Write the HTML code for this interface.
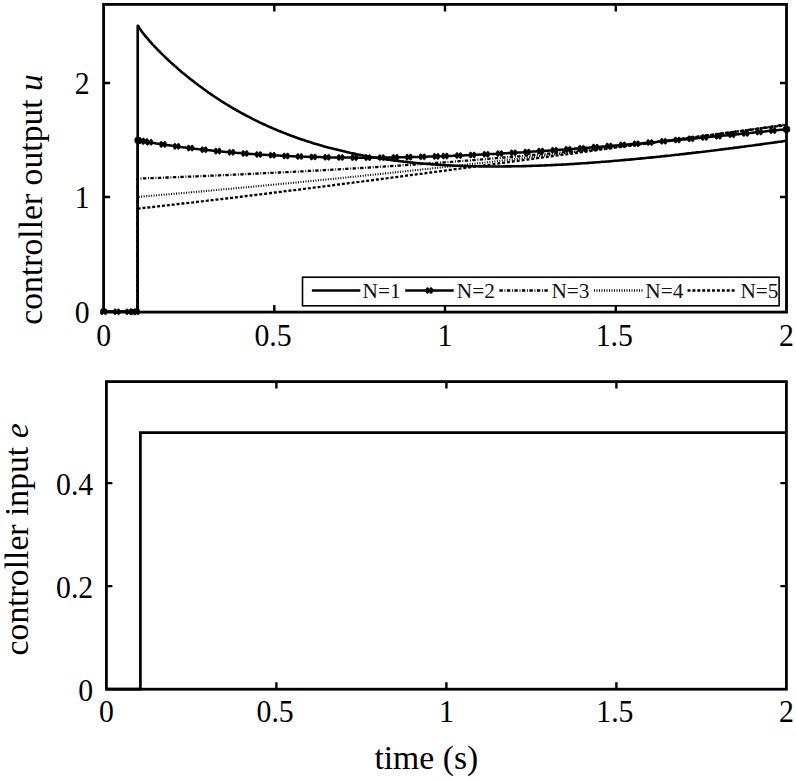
<!DOCTYPE html>
<html><head><meta charset="utf-8"><style>
html,body{margin:0;padding:0;background:#fff;width:796px;height:780px;overflow:hidden;position:relative}
svg{display:block;position:absolute;left:0;top:0}
text{font-family:"Liberation Serif",serif}
</style></head><body>
<svg width="796" height="780" viewBox="0 0 796 780">
<rect width="796" height="780" fill="#fff"/>
<g fill="none" stroke="#000" stroke-width="2.3" stroke-linejoin="round">
<polyline points="103.6,311.8 137.7,311.8 137.7,208.6 138.2,208.6 139.8,208.4 141.8,208.2 143.9,207.9 145.9,207.7 148.0,207.5 150.0,207.3 152.1,207.0 154.1,206.8 156.2,206.6 158.2,206.3 160.3,206.1 162.3,205.9 164.4,205.6 166.4,205.4 168.5,205.2 170.5,204.9 172.6,204.7 174.6,204.5 176.7,204.2 178.7,204.0 180.8,203.8 182.8,203.5 184.9,203.3 186.9,203.1 189.0,202.8 191.0,202.6 193.1,202.4 195.1,202.1 197.2,201.9 199.2,201.6 201.3,201.4 203.3,201.2 205.4,200.9 207.4,200.7 209.4,200.4 211.5,200.2 213.5,200.0 215.6,199.7 217.6,199.5 219.7,199.2 221.7,199.0 223.8,198.7 225.8,198.5 227.9,198.3 229.9,198.0 232.0,197.8 234.0,197.5 236.1,197.3 238.1,197.0 240.2,196.8 242.2,196.5 244.3,196.3 246.3,196.0 248.4,195.8 250.4,195.5 252.5,195.3 254.5,195.0 256.6,194.8 258.6,194.5 260.7,194.3 262.7,194.0 264.8,193.8 266.8,193.5 268.9,193.3 270.9,193.0 273.0,192.8 275.0,192.5 277.1,192.3 279.1,192.0 281.2,191.8 283.2,191.5 285.3,191.2 287.3,191.0 289.3,190.7 291.4,190.5 293.4,190.2 295.5,190.0 297.5,189.7 299.6,189.5 301.6,189.2 303.7,188.9 305.7,188.7 307.8,188.4 309.8,188.2 311.9,187.9 313.9,187.6 316.0,187.4 318.0,187.1 320.1,186.9 322.1,186.6 324.2,186.3 326.2,186.1 328.3,185.8 330.3,185.6 332.4,185.3 334.4,185.0 336.5,184.8 338.5,184.5 340.6,184.3 342.6,184.0 344.7,183.7 346.7,183.5 348.8,183.2 350.8,182.9 352.9,182.7 354.9,182.4 357.0,182.1 359.0,181.9 361.1,181.6 363.1,181.4 365.2,181.1 367.2,180.8 369.2,180.6 371.3,180.3 373.3,180.0 375.4,179.8 377.4,179.5 379.5,179.2 381.5,179.0 383.6,178.7 385.6,178.4 387.7,178.2 389.7,177.9 391.8,177.6 393.8,177.3 395.9,177.1 397.9,176.8 400.0,176.5 402.0,176.3 404.1,176.0 406.1,175.7 408.2,175.5 410.2,175.2 412.3,174.9 414.3,174.7 416.4,174.4 418.4,174.1 420.5,173.8 422.5,173.6 424.6,173.3 426.6,173.0 428.7,172.8 430.7,172.5 432.8,172.2 434.8,171.9 436.9,171.7 438.9,171.4 441.0,171.1 443.0,170.9 445.1,170.6 447.1,170.3 449.1,170.0 451.2,169.8 453.2,169.5 455.3,169.2 457.3,168.9 459.4,168.7 461.4,168.4 463.5,168.1 465.5,167.8 467.6,167.6 469.6,167.3 471.7,167.0 473.7,166.7 475.8,166.5 477.8,166.2 479.9,165.9 481.9,165.7 484.0,165.4 486.0,165.1 488.1,164.8 490.1,164.6 492.2,164.3 494.2,164.0 496.3,163.7 498.3,163.5 500.4,163.2 502.4,162.9 504.5,162.6 506.5,162.3 508.6,162.1 510.6,161.8 512.7,161.5 514.7,161.2 516.8,161.0 518.8,160.7 520.9,160.4 522.9,160.1 524.9,159.9 527.0,159.6 529.0,159.3 531.1,159.0 533.1,158.8 535.2,158.5 537.2,158.2 539.3,157.9 541.3,157.7 543.4,157.4 545.4,157.1 547.5,156.8 549.5,156.6 551.6,156.3 553.6,156.0 555.7,155.7 557.7,155.4 559.8,155.2 561.8,154.9 563.9,154.6 565.9,154.3 568.0,154.1 570.0,153.8 572.1,153.5 574.1,153.2 576.2,153.0 578.2,152.7 580.3,152.4 582.3,152.1 584.4,151.9 586.4,151.6 588.5,151.3 590.5,151.0 592.6,150.7 594.6,150.5 596.7,150.2 598.7,149.9 600.8,149.6 602.8,149.4 604.8,149.1 606.9,148.8 608.9,148.5 611.0,148.3 613.0,148.0 615.1,147.7 617.1,147.4 619.2,147.2 621.2,146.9 623.3,146.6 625.3,146.3 627.4,146.1 629.4,145.8 631.5,145.5 633.5,145.2 635.6,145.0 637.6,144.7 639.7,144.4 641.7,144.1 643.8,143.9 645.8,143.6 647.9,143.3 649.9,143.0 652.0,142.8 654.0,142.5 656.1,142.2 658.1,141.9 660.2,141.7 662.2,141.4 664.3,141.1 666.3,140.9 668.4,140.6 670.4,140.3 672.5,140.0 674.5,139.8 676.6,139.5 678.6,139.2 680.7,138.9 682.7,138.7 684.7,138.4 686.8,138.1 688.8,137.9 690.9,137.6 692.9,137.3 695.0,137.0 697.0,136.8 699.1,136.5 701.1,136.2 703.2,136.0 705.2,135.7 707.3,135.4 709.3,135.1 711.4,134.9 713.4,134.6 715.5,134.3 717.5,134.1 719.6,133.8 721.6,133.5 723.7,133.3 725.7,133.0 727.8,132.7 729.8,132.5 731.9,132.2 733.9,131.9 736.0,131.6 738.0,131.4 740.1,131.1 742.1,130.8 744.2,130.6 746.2,130.3 748.3,130.0 750.3,129.8 752.4,129.5 754.4,129.2 756.5,129.0 758.5,128.7 760.5,128.5 762.6,128.2 764.6,127.9 766.7,127.7 768.7,127.4 770.8,127.1 772.8,126.9 774.9,126.6 776.9,126.3 779.0,126.1 781.0,125.8 783.1,125.6 786.5,125.1" stroke-dasharray="3 1.9"/>
<polyline points="103.6,311.8 137.7,311.8 137.7,196.9 138.2,196.9 139.8,196.7 141.8,196.6 143.9,196.4 145.9,196.2 148.0,196.0 150.0,195.9 152.1,195.7 154.1,195.5 156.2,195.3 158.2,195.2 160.3,195.0 162.3,194.8 164.4,194.6 166.4,194.5 168.5,194.3 170.5,194.1 172.6,193.9 174.6,193.7 176.7,193.6 178.7,193.4 180.8,193.2 182.8,193.0 184.9,192.8 186.9,192.7 189.0,192.5 191.0,192.3 193.1,192.1 195.1,191.9 197.2,191.8 199.2,191.6 201.3,191.4 203.3,191.2 205.4,191.0 207.4,190.8 209.4,190.7 211.5,190.5 213.5,190.3 215.6,190.1 217.6,189.9 219.7,189.7 221.7,189.5 223.8,189.3 225.8,189.2 227.9,189.0 229.9,188.8 232.0,188.6 234.0,188.4 236.1,188.2 238.1,188.0 240.2,187.8 242.2,187.6 244.3,187.5 246.3,187.3 248.4,187.1 250.4,186.9 252.5,186.7 254.5,186.5 256.6,186.3 258.6,186.1 260.7,185.9 262.7,185.7 264.8,185.5 266.8,185.3 268.9,185.1 270.9,184.9 273.0,184.7 275.0,184.5 277.1,184.3 279.1,184.1 281.2,183.9 283.2,183.7 285.3,183.6 287.3,183.4 289.3,183.2 291.4,183.0 293.4,182.8 295.5,182.6 297.5,182.4 299.6,182.2 301.6,181.9 303.7,181.7 305.7,181.5 307.8,181.3 309.8,181.1 311.9,180.9 313.9,180.7 316.0,180.5 318.0,180.3 320.1,180.1 322.1,179.9 324.2,179.7 326.2,179.5 328.3,179.3 330.3,179.1 332.4,178.9 334.4,178.7 336.5,178.5 338.5,178.3 340.6,178.1 342.6,177.8 344.7,177.6 346.7,177.4 348.8,177.2 350.8,177.0 352.9,176.8 354.9,176.6 357.0,176.4 359.0,176.2 361.1,176.0 363.1,175.7 365.2,175.5 367.2,175.3 369.2,175.1 371.3,174.9 373.3,174.7 375.4,174.5 377.4,174.2 379.5,174.0 381.5,173.8 383.6,173.6 385.6,173.4 387.7,173.2 389.7,173.0 391.8,172.7 393.8,172.5 395.9,172.3 397.9,172.1 400.0,171.9 402.0,171.6 404.1,171.4 406.1,171.2 408.2,171.0 410.2,170.8 412.3,170.5 414.3,170.3 416.4,170.1 418.4,169.9 420.5,169.7 422.5,169.4 424.6,169.2 426.6,169.0 428.7,168.8 430.7,168.6 432.8,168.3 434.8,168.1 436.9,167.9 438.9,167.7 441.0,167.4 443.0,167.2 445.1,167.0 447.1,166.8 449.1,166.5 451.2,166.3 453.2,166.1 455.3,165.8 457.3,165.6 459.4,165.4 461.4,165.2 463.5,164.9 465.5,164.7 467.6,164.5 469.6,164.2 471.7,164.0 473.7,163.8 475.8,163.6 477.8,163.3 479.9,163.1 481.9,162.9 484.0,162.6 486.0,162.4 488.1,162.2 490.1,161.9 492.2,161.7 494.2,161.5 496.3,161.2 498.3,161.0 500.4,160.8 502.4,160.5 504.5,160.3 506.5,160.1 508.6,159.8 510.6,159.6 512.7,159.3 514.7,159.1 516.8,158.9 518.8,158.6 520.9,158.4 522.9,158.2 524.9,157.9 527.0,157.7 529.0,157.4 531.1,157.2 533.1,157.0 535.2,156.7 537.2,156.5 539.3,156.2 541.3,156.0 543.4,155.8 545.4,155.5 547.5,155.3 549.5,155.0 551.6,154.8 553.6,154.5 555.7,154.3 557.7,154.1 559.8,153.8 561.8,153.6 563.9,153.3 565.9,153.1 568.0,152.8 570.0,152.6 572.1,152.3 574.1,152.1 576.2,151.8 578.2,151.6 580.3,151.3 582.3,151.1 584.4,150.9 586.4,150.6 588.5,150.4 590.5,150.1 592.6,149.9 594.6,149.6 596.7,149.4 598.7,149.1 600.8,148.9 602.8,148.6 604.8,148.4 606.9,148.1 608.9,147.9 611.0,147.6 613.0,147.3 615.1,147.1 617.1,146.8 619.2,146.6 621.2,146.3 623.3,146.1 625.3,145.8 627.4,145.6 629.4,145.3 631.5,145.1 633.5,144.8 635.6,144.6 637.6,144.3 639.7,144.0 641.7,143.8 643.8,143.5 645.8,143.3 647.9,143.0 649.9,142.8 652.0,142.5 654.0,142.2 656.1,142.0 658.1,141.7 660.2,141.5 662.2,141.2 664.3,140.9 666.3,140.7 668.4,140.4 670.4,140.2 672.5,139.9 674.5,139.6 676.6,139.4 678.6,139.1 680.7,138.8 682.7,138.6 684.7,138.3 686.8,138.1 688.8,137.8 690.9,137.5 692.9,137.3 695.0,137.0 697.0,136.7 699.1,136.5 701.1,136.2 703.2,135.9 705.2,135.7 707.3,135.4 709.3,135.1 711.4,134.9 713.4,134.6 715.5,134.3 717.5,134.1 719.6,133.8 721.6,133.5 723.7,133.3 725.7,133.0 727.8,132.7 729.8,132.5 731.9,132.2 733.9,131.9 736.0,131.6 738.0,131.4 740.1,131.1 742.1,130.8 744.2,130.6 746.2,130.3 748.3,130.0 750.3,129.7 752.4,129.5 754.4,129.2 756.5,128.9 758.5,128.6 760.5,128.4 762.6,128.1 764.6,127.8 766.7,127.5 768.7,127.3 770.8,127.0 772.8,126.7 774.9,126.4 776.9,126.2 779.0,125.9 781.0,125.6 783.1,125.3 786.5,124.9" stroke-dasharray="1 1.5" stroke-width="2.1"/>
<polyline points="103.6,311.8 137.7,311.8 137.7,178.6 138.2,178.6 139.8,178.6 141.8,178.5 143.9,178.4 145.9,178.3 148.0,178.2 150.0,178.2 152.1,178.1 154.1,178.0 156.2,177.9 158.2,177.9 160.3,177.8 162.3,177.7 164.4,177.6 166.4,177.5 168.5,177.5 170.5,177.4 172.6,177.3 174.6,177.2 176.7,177.1 178.7,177.1 180.8,177.0 182.8,176.9 184.9,176.8 186.9,176.7 189.0,176.6 191.0,176.6 193.1,176.5 195.1,176.4 197.2,176.3 199.2,176.2 201.3,176.1 203.3,176.0 205.4,176.0 207.4,175.9 209.4,175.8 211.5,175.7 213.5,175.6 215.6,175.5 217.6,175.4 219.7,175.3 221.7,175.2 223.8,175.2 225.8,175.1 227.9,175.0 229.9,174.9 232.0,174.8 234.0,174.7 236.1,174.6 238.1,174.5 240.2,174.4 242.2,174.3 244.3,174.2 246.3,174.1 248.4,174.0 250.4,173.9 252.5,173.8 254.5,173.7 256.6,173.6 258.6,173.5 260.7,173.4 262.7,173.3 264.8,173.2 266.8,173.1 268.9,173.0 270.9,172.9 273.0,172.8 275.0,172.7 277.1,172.6 279.1,172.5 281.2,172.4 283.2,172.3 285.3,172.2 287.3,172.1 289.3,172.0 291.4,171.9 293.4,171.8 295.5,171.7 297.5,171.6 299.6,171.5 301.6,171.4 303.7,171.3 305.7,171.2 307.8,171.0 309.8,170.9 311.9,170.8 313.9,170.7 316.0,170.6 318.0,170.5 320.1,170.4 322.1,170.3 324.2,170.1 326.2,170.0 328.3,169.9 330.3,169.8 332.4,169.7 334.4,169.6 336.5,169.4 338.5,169.3 340.6,169.2 342.6,169.1 344.7,169.0 346.7,168.8 348.8,168.7 350.8,168.6 352.9,168.5 354.9,168.4 357.0,168.2 359.0,168.1 361.1,168.0 363.1,167.9 365.2,167.7 367.2,167.6 369.2,167.5 371.3,167.3 373.3,167.2 375.4,167.1 377.4,167.0 379.5,166.8 381.5,166.7 383.6,166.6 385.6,166.4 387.7,166.3 389.7,166.2 391.8,166.0 393.8,165.9 395.9,165.8 397.9,165.6 400.0,165.5 402.0,165.3 404.1,165.2 406.1,165.1 408.2,164.9 410.2,164.8 412.3,164.6 414.3,164.5 416.4,164.4 418.4,164.2 420.5,164.1 422.5,163.9 424.6,163.8 426.6,163.6 428.7,163.5 430.7,163.3 432.8,163.2 434.8,163.0 436.9,162.9 438.9,162.7 441.0,162.6 443.0,162.4 445.1,162.3 447.1,162.1 449.1,162.0 451.2,161.8 453.2,161.7 455.3,161.5 457.3,161.4 459.4,161.2 461.4,161.0 463.5,160.9 465.5,160.7 467.6,160.6 469.6,160.4 471.7,160.2 473.7,160.1 475.8,159.9 477.8,159.7 479.9,159.6 481.9,159.4 484.0,159.2 486.0,159.1 488.1,158.9 490.1,158.7 492.2,158.6 494.2,158.4 496.3,158.2 498.3,158.0 500.4,157.9 502.4,157.7 504.5,157.5 506.5,157.3 508.6,157.2 510.6,157.0 512.7,156.8 514.7,156.6 516.8,156.5 518.8,156.3 520.9,156.1 522.9,155.9 524.9,155.7 527.0,155.5 529.0,155.4 531.1,155.2 533.1,155.0 535.2,154.8 537.2,154.6 539.3,154.4 541.3,154.2 543.4,154.0 545.4,153.8 547.5,153.6 549.5,153.5 551.6,153.3 553.6,153.1 555.7,152.9 557.7,152.7 559.8,152.5 561.8,152.3 563.9,152.1 565.9,151.9 568.0,151.7 570.0,151.5 572.1,151.3 574.1,151.1 576.2,150.9 578.2,150.6 580.3,150.4 582.3,150.2 584.4,150.0 586.4,149.8 588.5,149.6 590.5,149.4 592.6,149.2 594.6,149.0 596.7,148.7 598.7,148.5 600.8,148.3 602.8,148.1 604.8,147.9 606.9,147.7 608.9,147.4 611.0,147.2 613.0,147.0 615.1,146.8 617.1,146.5 619.2,146.3 621.2,146.1 623.3,145.9 625.3,145.6 627.4,145.4 629.4,145.2 631.5,144.9 633.5,144.7 635.6,144.5 637.6,144.2 639.7,144.0 641.7,143.8 643.8,143.5 645.8,143.3 647.9,143.0 649.9,142.8 652.0,142.6 654.0,142.3 656.1,142.1 658.1,141.8 660.2,141.6 662.2,141.3 664.3,141.1 666.3,140.8 668.4,140.6 670.4,140.3 672.5,140.1 674.5,139.8 676.6,139.6 678.6,139.3 680.7,139.1 682.7,138.8 684.7,138.6 686.8,138.3 688.8,138.0 690.9,137.8 692.9,137.5 695.0,137.2 697.0,137.0 699.1,136.7 701.1,136.4 703.2,136.2 705.2,135.9 707.3,135.6 709.3,135.4 711.4,135.1 713.4,134.8 715.5,134.5 717.5,134.3 719.6,134.0 721.6,133.7 723.7,133.4 725.7,133.2 727.8,132.9 729.8,132.6 731.9,132.3 733.9,132.0 736.0,131.7 738.0,131.4 740.1,131.2 742.1,130.9 744.2,130.6 746.2,130.3 748.3,130.0 750.3,129.7 752.4,129.4 754.4,129.1 756.5,128.8 758.5,128.5 760.5,128.2 762.6,127.9 764.6,127.6 766.7,127.3 768.7,127.0 770.8,126.7 772.8,126.4 774.9,126.1 776.9,125.8 779.0,125.4 781.0,125.1 783.1,124.8 786.5,124.3" stroke-dasharray="3.4 1.7 0.9 1.5"/>
<polyline points="103.6,311.8 137.7,311.8 137.7,140.3 138.2,140.3 139.8,140.7 141.8,141.0 143.9,141.4 145.9,141.7 148.0,142.1 150.0,142.4 152.1,142.7 154.1,143.0 156.2,143.4 158.2,143.7 160.3,144.0 162.3,144.3 164.4,144.6 166.4,144.9 168.5,145.2 170.5,145.5 172.6,145.8 174.6,146.1 176.7,146.4 178.7,146.6 180.8,146.9 182.8,147.2 184.9,147.4 186.9,147.7 189.0,147.9 191.0,148.2 193.1,148.4 195.1,148.7 197.2,148.9 199.2,149.2 201.3,149.4 203.3,149.6 205.4,149.8 207.4,150.1 209.4,150.3 211.5,150.5 213.5,150.7 215.6,150.9 217.6,151.1 219.7,151.3 221.7,151.5 223.8,151.7 225.8,151.9 227.9,152.1 229.9,152.3 232.0,152.4 234.0,152.6 236.1,152.8 238.1,152.9 240.2,153.1 242.2,153.3 244.3,153.4 246.3,153.6 248.4,153.7 250.4,153.9 252.5,154.0 254.5,154.2 256.6,154.3 258.6,154.4 260.7,154.6 262.7,154.7 264.8,154.8 266.8,155.0 268.9,155.1 270.9,155.2 273.0,155.3 275.0,155.4 277.1,155.5 279.1,155.6 281.2,155.7 283.2,155.8 285.3,155.9 287.3,156.0 289.3,156.1 291.4,156.2 293.4,156.3 295.5,156.4 297.5,156.4 299.6,156.5 301.6,156.6 303.7,156.7 305.7,156.7 307.8,156.8 309.8,156.9 311.9,156.9 313.9,157.0 316.0,157.0 318.0,157.1 320.1,157.1 322.1,157.2 324.2,157.2 326.2,157.3 328.3,157.3 330.3,157.4 332.4,157.4 334.4,157.4 336.5,157.5 338.5,157.5 340.6,157.5 342.6,157.5 344.7,157.6 346.7,157.6 348.8,157.6 350.8,157.6 352.9,157.6 354.9,157.6 357.0,157.6 359.0,157.7 361.1,157.7 363.1,157.7 365.2,157.7 367.2,157.7 369.2,157.6 371.3,157.6 373.3,157.6 375.4,157.6 377.4,157.6 379.5,157.6 381.5,157.6 383.6,157.6 385.6,157.5 387.7,157.5 389.7,157.5 391.8,157.5 393.8,157.4 395.9,157.4 397.9,157.4 400.0,157.3 402.0,157.3 404.1,157.3 406.1,157.2 408.2,157.2 410.2,157.1 412.3,157.1 414.3,157.0 416.4,157.0 418.4,156.9 420.5,156.9 422.5,156.8 424.6,156.8 426.6,156.7 428.7,156.6 430.7,156.6 432.8,156.5 434.8,156.5 436.9,156.4 438.9,156.3 441.0,156.3 443.0,156.2 445.1,156.1 447.1,156.0 449.1,156.0 451.2,155.9 453.2,155.8 455.3,155.7 457.3,155.6 459.4,155.6 461.4,155.5 463.5,155.4 465.5,155.3 467.6,155.2 469.6,155.1 471.7,155.0 473.7,154.9 475.8,154.8 477.8,154.7 479.9,154.6 481.9,154.5 484.0,154.4 486.0,154.3 488.1,154.2 490.1,154.1 492.2,154.0 494.2,153.9 496.3,153.8 498.3,153.7 500.4,153.6 502.4,153.5 504.5,153.3 506.5,153.2 508.6,153.1 510.6,153.0 512.7,152.9 514.7,152.7 516.8,152.6 518.8,152.5 520.9,152.4 522.9,152.3 524.9,152.1 527.0,152.0 529.0,151.9 531.1,151.7 533.1,151.6 535.2,151.5 537.2,151.3 539.3,151.2 541.3,151.1 543.4,150.9 545.4,150.8 547.5,150.7 549.5,150.5 551.6,150.4 553.6,150.2 555.7,150.1 557.7,149.9 559.8,149.8 561.8,149.7 563.9,149.5 565.9,149.4 568.0,149.2 570.0,149.1 572.1,148.9 574.1,148.8 576.2,148.6 578.2,148.4 580.3,148.3 582.3,148.1 584.4,148.0 586.4,147.8 588.5,147.7 590.5,147.5 592.6,147.3 594.6,147.2 596.7,147.0 598.7,146.9 600.8,146.7 602.8,146.5 604.8,146.4 606.9,146.2 608.9,146.0 611.0,145.9 613.0,145.7 615.1,145.5 617.1,145.4 619.2,145.2 621.2,145.0 623.3,144.8 625.3,144.7 627.4,144.5 629.4,144.3 631.5,144.1 633.5,144.0 635.6,143.8 637.6,143.6 639.7,143.4 641.7,143.3 643.8,143.1 645.8,142.9 647.9,142.7 649.9,142.5 652.0,142.4 654.0,142.2 656.1,142.0 658.1,141.8 660.2,141.6 662.2,141.4 664.3,141.2 666.3,141.1 668.4,140.9 670.4,140.7 672.5,140.5 674.5,140.3 676.6,140.1 678.6,139.9 680.7,139.7 682.7,139.5 684.7,139.4 686.8,139.2 688.8,139.0 690.9,138.8 692.9,138.6 695.0,138.4 697.0,138.2 699.1,138.0 701.1,137.8 703.2,137.6 705.2,137.4 707.3,137.2 709.3,137.0 711.4,136.8 713.4,136.6 715.5,136.4 717.5,136.2 719.6,136.0 721.6,135.8 723.7,135.6 725.7,135.4 727.8,135.2 729.8,135.0 731.9,134.8 733.9,134.6 736.0,134.4 738.0,134.2 740.1,134.0 742.1,133.8 744.2,133.6 746.2,133.4 748.3,133.2 750.3,133.0 752.4,132.7 754.4,132.5 756.5,132.3 758.5,132.1 760.5,131.9 762.6,131.7 764.6,131.5 766.7,131.3 768.7,131.1 770.8,130.9 772.8,130.7 774.9,130.4 776.9,130.2 779.0,130.0 781.0,129.8 783.1,129.6 786.5,129.2" stroke-width="2.5"/>
<path d="M101.95,308.75A1.6,3.05 0 1 1 101.95,314.85A1.6,3.05 0 1 1 101.95,308.75ZM105.45,308.75A1.6,3.05 0 1 1 105.45,314.85A1.6,3.05 0 1 1 105.45,308.75ZM115.05,308.75A1.6,3.05 0 1 1 115.05,314.85A1.6,3.05 0 1 1 115.05,308.75ZM118.55,308.75A1.6,3.05 0 1 1 118.55,314.85A1.6,3.05 0 1 1 118.55,308.75ZM127.05,308.75A1.6,3.05 0 1 1 127.05,314.85A1.6,3.05 0 1 1 127.05,308.75ZM130.55,308.75A1.6,3.05 0 1 1 130.55,314.85A1.6,3.05 0 1 1 130.55,308.75ZM131.85,308.75A1.6,3.05 0 1 1 131.85,314.85A1.6,3.05 0 1 1 131.85,308.75ZM135.35,308.75A1.6,3.05 0 1 1 135.35,314.85A1.6,3.05 0 1 1 135.35,308.75ZM134.55,308.75A1.6,3.05 0 1 1 134.55,314.85A1.6,3.05 0 1 1 134.55,308.75ZM138.05,308.75A1.6,3.05 0 1 1 138.05,314.85A1.6,3.05 0 1 1 138.05,308.75ZM136.34,137.32A1.6,3.05 0 1 1 136.34,143.42A1.6,3.05 0 1 1 136.34,137.32ZM139.84,137.32A1.6,3.05 0 1 1 139.84,143.42A1.6,3.05 0 1 1 139.84,137.32ZM139.75,137.91A1.6,3.05 0 1 1 139.75,144.01A1.6,3.05 0 1 1 139.75,137.91ZM143.25,137.91A1.6,3.05 0 1 1 143.25,144.01A1.6,3.05 0 1 1 143.25,137.91ZM143.17,138.49A1.6,3.05 0 1 1 143.17,144.59A1.6,3.05 0 1 1 143.17,138.49ZM146.67,138.49A1.6,3.05 0 1 1 146.67,144.59A1.6,3.05 0 1 1 146.67,138.49ZM147.60,139.23A1.6,3.05 0 1 1 147.60,145.33A1.6,3.05 0 1 1 147.60,139.23ZM151.10,139.23A1.6,3.05 0 1 1 151.10,145.33A1.6,3.05 0 1 1 151.10,139.23ZM161.26,141.36A1.6,3.05 0 1 1 161.26,147.46A1.6,3.05 0 1 1 161.26,141.36ZM164.76,141.36A1.6,3.05 0 1 1 164.76,147.46A1.6,3.05 0 1 1 164.76,141.36ZM174.92,143.30A1.6,3.05 0 1 1 174.92,149.40A1.6,3.05 0 1 1 174.92,143.30ZM178.42,143.30A1.6,3.05 0 1 1 178.42,149.40A1.6,3.05 0 1 1 178.42,143.30ZM188.58,145.06A1.6,3.05 0 1 1 188.58,151.16A1.6,3.05 0 1 1 188.58,145.06ZM192.08,145.06A1.6,3.05 0 1 1 192.08,151.16A1.6,3.05 0 1 1 192.08,145.06ZM202.24,146.64A1.6,3.05 0 1 1 202.24,152.74A1.6,3.05 0 1 1 202.24,146.64ZM205.74,146.64A1.6,3.05 0 1 1 205.74,152.74A1.6,3.05 0 1 1 205.74,146.64ZM215.89,148.06A1.6,3.05 0 1 1 215.89,154.16A1.6,3.05 0 1 1 215.89,148.06ZM219.39,148.06A1.6,3.05 0 1 1 219.39,154.16A1.6,3.05 0 1 1 219.39,148.06ZM229.55,149.32A1.6,3.05 0 1 1 229.55,155.42A1.6,3.05 0 1 1 229.55,149.32ZM233.05,149.32A1.6,3.05 0 1 1 233.05,155.42A1.6,3.05 0 1 1 233.05,149.32ZM243.21,150.43A1.6,3.05 0 1 1 243.21,156.53A1.6,3.05 0 1 1 243.21,150.43ZM246.71,150.43A1.6,3.05 0 1 1 246.71,156.53A1.6,3.05 0 1 1 246.71,150.43ZM256.87,151.39A1.6,3.05 0 1 1 256.87,157.49A1.6,3.05 0 1 1 256.87,151.39ZM260.37,151.39A1.6,3.05 0 1 1 260.37,157.49A1.6,3.05 0 1 1 260.37,151.39ZM270.53,152.21A1.6,3.05 0 1 1 270.53,158.31A1.6,3.05 0 1 1 270.53,152.21ZM274.03,152.21A1.6,3.05 0 1 1 274.03,158.31A1.6,3.05 0 1 1 274.03,152.21ZM284.18,152.91A1.6,3.05 0 1 1 284.18,159.01A1.6,3.05 0 1 1 284.18,152.91ZM287.68,152.91A1.6,3.05 0 1 1 287.68,159.01A1.6,3.05 0 1 1 287.68,152.91ZM297.84,153.47A1.6,3.05 0 1 1 297.84,159.57A1.6,3.05 0 1 1 297.84,153.47ZM301.34,153.47A1.6,3.05 0 1 1 301.34,159.57A1.6,3.05 0 1 1 301.34,153.47ZM311.50,153.92A1.6,3.05 0 1 1 311.50,160.02A1.6,3.05 0 1 1 311.50,153.92ZM315.00,153.92A1.6,3.05 0 1 1 315.00,160.02A1.6,3.05 0 1 1 315.00,153.92ZM325.16,154.25A1.6,3.05 0 1 1 325.16,160.35A1.6,3.05 0 1 1 325.16,154.25ZM328.66,154.25A1.6,3.05 0 1 1 328.66,160.35A1.6,3.05 0 1 1 328.66,154.25ZM338.82,154.47A1.6,3.05 0 1 1 338.82,160.57A1.6,3.05 0 1 1 338.82,154.47ZM342.32,154.47A1.6,3.05 0 1 1 342.32,160.57A1.6,3.05 0 1 1 342.32,154.47ZM352.47,154.58A1.6,3.05 0 1 1 352.47,160.68A1.6,3.05 0 1 1 352.47,154.58ZM355.97,154.58A1.6,3.05 0 1 1 355.97,160.68A1.6,3.05 0 1 1 355.97,154.58ZM366.13,154.60A1.6,3.05 0 1 1 366.13,160.70A1.6,3.05 0 1 1 366.13,154.60ZM369.63,154.60A1.6,3.05 0 1 1 369.63,160.70A1.6,3.05 0 1 1 369.63,154.60ZM379.79,154.53A1.6,3.05 0 1 1 379.79,160.63A1.6,3.05 0 1 1 379.79,154.53ZM383.29,154.53A1.6,3.05 0 1 1 383.29,160.63A1.6,3.05 0 1 1 383.29,154.53ZM393.45,154.36A1.6,3.05 0 1 1 393.45,160.46A1.6,3.05 0 1 1 393.45,154.36ZM396.95,154.36A1.6,3.05 0 1 1 396.95,160.46A1.6,3.05 0 1 1 396.95,154.36ZM407.11,154.11A1.6,3.05 0 1 1 407.11,160.21A1.6,3.05 0 1 1 407.11,154.11ZM410.61,154.11A1.6,3.05 0 1 1 410.61,160.21A1.6,3.05 0 1 1 410.61,154.11ZM420.76,153.77A1.6,3.05 0 1 1 420.76,159.87A1.6,3.05 0 1 1 420.76,153.77ZM424.26,153.77A1.6,3.05 0 1 1 424.26,159.87A1.6,3.05 0 1 1 424.26,153.77ZM434.42,153.37A1.6,3.05 0 1 1 434.42,159.47A1.6,3.05 0 1 1 434.42,153.37ZM437.92,153.37A1.6,3.05 0 1 1 437.92,159.47A1.6,3.05 0 1 1 437.92,153.37ZM443.30,153.06A1.6,3.05 0 1 1 443.30,159.16A1.6,3.05 0 1 1 443.30,153.06ZM446.80,153.06A1.6,3.05 0 1 1 446.80,159.16A1.6,3.05 0 1 1 446.80,153.06ZM456.96,152.53A1.6,3.05 0 1 1 456.96,158.63A1.6,3.05 0 1 1 456.96,152.53ZM460.46,152.53A1.6,3.05 0 1 1 460.46,158.63A1.6,3.05 0 1 1 460.46,152.53ZM470.62,151.94A1.6,3.05 0 1 1 470.62,158.04A1.6,3.05 0 1 1 470.62,151.94ZM474.12,151.94A1.6,3.05 0 1 1 474.12,158.04A1.6,3.05 0 1 1 474.12,151.94ZM484.27,151.28A1.6,3.05 0 1 1 484.27,157.38A1.6,3.05 0 1 1 484.27,151.28ZM487.77,151.28A1.6,3.05 0 1 1 487.77,157.38A1.6,3.05 0 1 1 487.77,151.28ZM497.93,150.56A1.6,3.05 0 1 1 497.93,156.66A1.6,3.05 0 1 1 497.93,150.56ZM501.43,150.56A1.6,3.05 0 1 1 501.43,156.66A1.6,3.05 0 1 1 501.43,150.56ZM511.59,149.78A1.6,3.05 0 1 1 511.59,155.88A1.6,3.05 0 1 1 511.59,149.78ZM515.09,149.78A1.6,3.05 0 1 1 515.09,155.88A1.6,3.05 0 1 1 515.09,149.78ZM525.25,148.95A1.6,3.05 0 1 1 525.25,155.05A1.6,3.05 0 1 1 525.25,148.95ZM528.75,148.95A1.6,3.05 0 1 1 528.75,155.05A1.6,3.05 0 1 1 528.75,148.95ZM538.91,148.07A1.6,3.05 0 1 1 538.91,154.17A1.6,3.05 0 1 1 538.91,148.07ZM542.41,148.07A1.6,3.05 0 1 1 542.41,154.17A1.6,3.05 0 1 1 542.41,148.07ZM552.56,147.14A1.6,3.05 0 1 1 552.56,153.24A1.6,3.05 0 1 1 552.56,147.14ZM556.06,147.14A1.6,3.05 0 1 1 556.06,153.24A1.6,3.05 0 1 1 556.06,147.14ZM566.22,146.16A1.6,3.05 0 1 1 566.22,152.26A1.6,3.05 0 1 1 566.22,146.16ZM569.72,146.16A1.6,3.05 0 1 1 569.72,152.26A1.6,3.05 0 1 1 569.72,146.16ZM579.88,145.14A1.6,3.05 0 1 1 579.88,151.24A1.6,3.05 0 1 1 579.88,145.14ZM583.38,145.14A1.6,3.05 0 1 1 583.38,151.24A1.6,3.05 0 1 1 583.38,145.14ZM593.54,144.08A1.6,3.05 0 1 1 593.54,150.18A1.6,3.05 0 1 1 593.54,144.08ZM597.04,144.08A1.6,3.05 0 1 1 597.04,150.18A1.6,3.05 0 1 1 597.04,144.08ZM607.20,142.98A1.6,3.05 0 1 1 607.20,149.08A1.6,3.05 0 1 1 607.20,142.98ZM610.70,142.98A1.6,3.05 0 1 1 610.70,149.08A1.6,3.05 0 1 1 610.70,142.98ZM620.85,141.85A1.6,3.05 0 1 1 620.85,147.95A1.6,3.05 0 1 1 620.85,141.85ZM624.35,141.85A1.6,3.05 0 1 1 624.35,147.95A1.6,3.05 0 1 1 624.35,141.85ZM634.51,140.69A1.6,3.05 0 1 1 634.51,146.79A1.6,3.05 0 1 1 634.51,140.69ZM638.01,140.69A1.6,3.05 0 1 1 638.01,146.79A1.6,3.05 0 1 1 638.01,140.69ZM648.17,139.49A1.6,3.05 0 1 1 648.17,145.59A1.6,3.05 0 1 1 648.17,139.49ZM651.67,139.49A1.6,3.05 0 1 1 651.67,145.59A1.6,3.05 0 1 1 651.67,139.49ZM661.83,138.26A1.6,3.05 0 1 1 661.83,144.36A1.6,3.05 0 1 1 661.83,138.26ZM665.33,138.26A1.6,3.05 0 1 1 665.33,144.36A1.6,3.05 0 1 1 665.33,138.26ZM675.49,137.01A1.6,3.05 0 1 1 675.49,143.11A1.6,3.05 0 1 1 675.49,137.01ZM678.99,137.01A1.6,3.05 0 1 1 678.99,143.11A1.6,3.05 0 1 1 678.99,137.01ZM689.14,135.73A1.6,3.05 0 1 1 689.14,141.83A1.6,3.05 0 1 1 689.14,135.73ZM692.64,135.73A1.6,3.05 0 1 1 692.64,141.83A1.6,3.05 0 1 1 692.64,135.73ZM702.80,134.42A1.6,3.05 0 1 1 702.80,140.52A1.6,3.05 0 1 1 702.80,134.42ZM706.30,134.42A1.6,3.05 0 1 1 706.30,140.52A1.6,3.05 0 1 1 706.30,134.42ZM716.46,133.10A1.6,3.05 0 1 1 716.46,139.20A1.6,3.05 0 1 1 716.46,133.10ZM719.96,133.10A1.6,3.05 0 1 1 719.96,139.20A1.6,3.05 0 1 1 719.96,133.10ZM730.12,131.75A1.6,3.05 0 1 1 730.12,137.85A1.6,3.05 0 1 1 730.12,131.75ZM733.62,131.75A1.6,3.05 0 1 1 733.62,137.85A1.6,3.05 0 1 1 733.62,131.75ZM743.78,130.39A1.6,3.05 0 1 1 743.78,136.49A1.6,3.05 0 1 1 743.78,130.39ZM747.28,130.39A1.6,3.05 0 1 1 747.28,136.49A1.6,3.05 0 1 1 747.28,130.39ZM757.43,129.01A1.6,3.05 0 1 1 757.43,135.11A1.6,3.05 0 1 1 757.43,129.01ZM760.93,129.01A1.6,3.05 0 1 1 760.93,135.11A1.6,3.05 0 1 1 760.93,129.01ZM771.09,127.61A1.6,3.05 0 1 1 771.09,133.71A1.6,3.05 0 1 1 771.09,127.61ZM774.59,127.61A1.6,3.05 0 1 1 774.59,133.71A1.6,3.05 0 1 1 774.59,127.61ZM784.75,126.20A1.6,3.05 0 1 1 784.75,132.30A1.6,3.05 0 1 1 784.75,126.20ZM788.25,126.20A1.6,3.05 0 1 1 788.25,132.30A1.6,3.05 0 1 1 788.25,126.20Z" fill="#000" stroke-width="0.6"/>
<polyline points="103.6,311.8 137.7,311.8 137.7,25.9 138.2,25.9 139.8,28.8 141.8,31.6 143.9,34.2 145.9,36.7 148.0,39.2 150.0,41.5 152.1,43.8 154.1,46.0 156.2,48.2 158.2,50.3 160.3,52.3 162.3,54.4 164.4,56.4 166.4,58.3 168.5,60.2 170.5,62.1 172.6,64.0 174.6,65.8 176.7,67.6 178.7,69.4 180.8,71.2 182.8,72.9 184.9,74.6 186.9,76.3 189.0,77.9 191.0,79.5 193.1,81.1 195.1,82.7 197.2,84.3 199.2,85.8 201.3,87.3 203.3,88.8 205.4,90.3 207.4,91.7 209.4,93.2 211.5,94.6 213.5,96.0 215.6,97.3 217.6,98.7 219.7,100.0 221.7,101.3 223.8,102.6 225.8,103.9 227.9,105.1 229.9,106.4 232.0,107.6 234.0,108.8 236.1,110.0 238.1,111.1 240.2,112.3 242.2,113.4 244.3,114.5 246.3,115.6 248.4,116.7 250.4,117.7 252.5,118.8 254.5,119.8 256.6,120.8 258.6,121.8 260.7,122.8 262.7,123.8 264.8,124.7 266.8,125.7 268.9,126.6 270.9,127.5 273.0,128.4 275.0,129.2 277.1,130.1 279.1,131.0 281.2,131.8 283.2,132.6 285.3,133.4 287.3,134.2 289.3,135.0 291.4,135.8 293.4,136.5 295.5,137.3 297.5,138.0 299.6,138.7 301.6,139.4 303.7,140.1 305.7,140.8 307.8,141.4 309.8,142.1 311.9,142.7 313.9,143.4 316.0,144.0 318.0,144.6 320.1,145.2 322.1,145.8 324.2,146.4 326.2,146.9 328.3,147.5 330.3,148.0 332.4,148.6 334.4,149.1 336.5,149.6 338.5,150.1 340.6,150.6 342.6,151.1 344.7,151.6 346.7,152.1 348.8,152.5 350.8,153.0 352.9,153.4 354.9,153.8 357.0,154.3 359.0,154.7 361.1,155.1 363.1,155.5 365.2,155.8 367.2,156.2 369.2,156.6 371.3,157.0 373.3,157.3 375.4,157.7 377.4,158.0 379.5,158.3 381.5,158.6 383.6,158.9 385.6,159.3 387.7,159.6 389.7,159.8 391.8,160.1 393.8,160.4 395.9,160.7 397.9,160.9 400.0,161.2 402.0,161.4 404.1,161.7 406.1,161.9 408.2,162.1 410.2,162.4 412.3,162.6 414.3,162.8 416.4,163.0 418.4,163.2 420.5,163.4 422.5,163.5 424.6,163.7 426.6,163.9 428.7,164.0 430.7,164.2 432.8,164.4 434.8,164.5 436.9,164.6 438.9,164.8 441.0,164.9 443.0,165.0 445.1,165.1 447.1,165.3 449.1,165.4 451.2,165.5 453.2,165.6 455.3,165.7 457.3,165.7 459.4,165.8 461.4,165.9 463.5,166.0 465.5,166.0 467.6,166.1 469.6,166.2 471.7,166.2 473.7,166.3 475.8,166.3 477.8,166.3 479.9,166.4 481.9,166.4 484.0,166.4 486.0,166.4 488.1,166.5 490.1,166.5 492.2,166.5 494.2,166.5 496.3,166.5 498.3,166.5 500.4,166.5 502.4,166.5 504.5,166.4 506.5,166.4 508.6,166.4 510.6,166.4 512.7,166.3 514.7,166.3 516.8,166.3 518.8,166.2 520.9,166.2 522.9,166.1 524.9,166.1 527.0,166.0 529.0,166.0 531.1,165.9 533.1,165.8 535.2,165.8 537.2,165.7 539.3,165.6 541.3,165.5 543.4,165.5 545.4,165.4 547.5,165.3 549.5,165.2 551.6,165.1 553.6,165.0 555.7,164.9 557.7,164.8 559.8,164.7 561.8,164.6 563.9,164.5 565.9,164.4 568.0,164.2 570.0,164.1 572.1,164.0 574.1,163.9 576.2,163.7 578.2,163.6 580.3,163.5 582.3,163.3 584.4,163.2 586.4,163.1 588.5,162.9 590.5,162.8 592.6,162.6 594.6,162.5 596.7,162.3 598.7,162.2 600.8,162.0 602.8,161.8 604.8,161.7 606.9,161.5 608.9,161.4 611.0,161.2 613.0,161.0 615.1,160.8 617.1,160.7 619.2,160.5 621.2,160.3 623.3,160.1 625.3,159.9 627.4,159.8 629.4,159.6 631.5,159.4 633.5,159.2 635.6,159.0 637.6,158.8 639.7,158.6 641.7,158.4 643.8,158.2 645.8,158.0 647.9,157.8 649.9,157.6 652.0,157.4 654.0,157.2 656.1,157.0 658.1,156.8 660.2,156.6 662.2,156.3 664.3,156.1 666.3,155.9 668.4,155.7 670.4,155.5 672.5,155.2 674.5,155.0 676.6,154.8 678.6,154.6 680.7,154.3 682.7,154.1 684.7,153.9 686.8,153.6 688.8,153.4 690.9,153.2 692.9,152.9 695.0,152.7 697.0,152.4 699.1,152.2 701.1,152.0 703.2,151.7 705.2,151.5 707.3,151.2 709.3,151.0 711.4,150.7 713.4,150.5 715.5,150.2 717.5,150.0 719.6,149.7 721.6,149.4 723.7,149.2 725.7,148.9 727.8,148.7 729.8,148.4 731.9,148.2 733.9,147.9 736.0,147.6 738.0,147.4 740.1,147.1 742.1,146.8 744.2,146.6 746.2,146.3 748.3,146.0 750.3,145.7 752.4,145.5 754.4,145.2 756.5,144.9 758.5,144.7 760.5,144.4 762.6,144.1 764.6,143.8 766.7,143.5 768.7,143.3 770.8,143.0 772.8,142.7 774.9,142.4 776.9,142.1 779.0,141.8 781.0,141.6 783.1,141.3 786.5,140.8" stroke-width="2.6"/>
</g>
<polyline fill="none" stroke="#000" stroke-width="2.7" points="106.4,689.2 140.4,689.2 140.4,432.7 786.4,432.7"/>
<rect x="103.6" y="4.4" width="682.9" height="307.7" fill="none" stroke="#000" stroke-width="2.8"/>
<rect x="106.4" y="381.6" width="680.0" height="307.6" fill="none" stroke="#000" stroke-width="2.8"/>
<path d="M274.3,312.1v-7M274.3,4.4v7M445.0,312.1v-7M445.0,4.4v7M615.8,312.1v-7M615.8,4.4v7M103.6,197.0h6.5M786.5,197.0h-6.5M103.6,83.0h6.5M786.5,83.0h-6.5M276.4,689.2v-7M276.4,381.6v7M446.4,689.2v-7M446.4,381.6v7M616.4,689.2v-7M616.4,381.6v7M106.4,586.1h6M786.4,586.1h-6M106.4,483.1h6M786.4,483.1h-6" stroke="#000" stroke-width="2.4" fill="none"/>
<rect x="302.5" y="277.2" width="476.6" height="28.6" fill="#fff" stroke="#000" stroke-width="1.6"/>
<line x1="311.9" y1="290.5" x2="360.3" y2="290.5" stroke="#000" stroke-width="2.4"/>
<line x1="405.2" y1="290.5" x2="453.7" y2="290.5" stroke="#000" stroke-width="2.4"/>
<path d="M427.55,287.45A1.6,3.05 0 1 1 427.55,293.55A1.6,3.05 0 1 1 427.55,287.45ZM431.05,287.45A1.6,3.05 0 1 1 431.05,293.55A1.6,3.05 0 1 1 431.05,287.45Z" fill="#000" stroke="#000" stroke-width="0.6"/>
<line x1="499.4" y1="290.5" x2="548.1" y2="290.5" stroke="#000" stroke-width="2.4" stroke-dasharray="3.4 1.7 0.9 1.5"/>
<line x1="594.0" y1="290.5" x2="642.7" y2="290.5" stroke="#000" stroke-width="2.4" stroke-dasharray="1 1.5"/>
<line x1="687.5" y1="290.5" x2="735.6" y2="290.5" stroke="#000" stroke-width="2.4" stroke-dasharray="3 1.9"/>
</svg>
<svg width="796" height="780" viewBox="0 0 796 780" style="position:absolute;left:0;top:0;font-family:'Liberation Serif'">
<g font-size="31" text-anchor="middle">
<text transform="translate(103.6,345.6) scale(0.96,1)">0</text>
<text transform="translate(106.4,722.2) scale(0.96,1)">0</text>
<text transform="translate(273.0,345.6) scale(0.96,1)">0.5</text>
<text transform="translate(275.1,722.2) scale(0.96,1)">0.5</text>
<text transform="translate(445.0,345.6) scale(0.96,1)">1</text>
<text transform="translate(446.4,722.2) scale(0.96,1)">1</text>
<text transform="translate(614.3,345.6) scale(0.96,1)">1.5</text>
<text transform="translate(614.9,722.2) scale(0.96,1)">1.5</text>
<text transform="translate(786.5,345.6) scale(0.96,1)">2</text>
<text transform="translate(786.4,722.2) scale(0.96,1)">2</text>
</g>
<g font-size="31" text-anchor="end">
<text transform="translate(89.6,323.0) scale(0.96,1)">0</text>
<text transform="translate(89.6,207.6) scale(0.96,1)">1</text>
<text transform="translate(89.6,93.6) scale(0.96,1)">2</text>
<text transform="translate(93.2,700.9) scale(0.96,1)">0</text>
<text transform="translate(93.2,597.6) scale(0.96,1)">0.2</text>
<text transform="translate(93.2,494.6) scale(0.96,1)">0.4</text>
</g>
<g font-size="21.3" fill="#111">
<text x="362.5" y="297.8">N=1</text>
<text x="456.8" y="297.8">N=2</text>
<text x="551.4" y="297.8">N=3</text>
<text x="645.3" y="297.8">N=4</text>
<text x="740.4" y="297.8">N=5</text>
</g>
<text font-size="33.7" transform="translate(41.5,199.4) rotate(-90)" text-anchor="middle">controller output <tspan font-style="italic">u</tspan></text>
<text font-size="33.7" transform="translate(27.7,539.4) rotate(-90)" text-anchor="middle">controller input <tspan font-style="italic">e</tspan></text>
<text font-size="33.7" x="426.3" y="769" text-anchor="middle">time (s)</text>
</svg>
</body></html>
